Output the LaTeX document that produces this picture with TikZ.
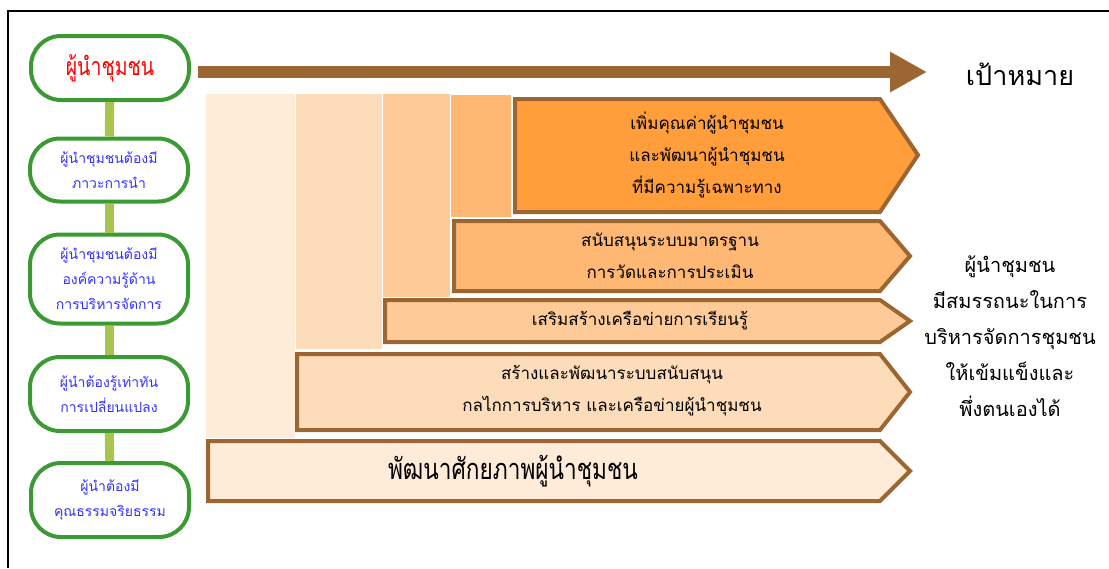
\documentclass[tikz,border=0pt]{standalone}
\usepackage{fontspec}
\newfontfamily\thaifont[Script=Thai]{Loma}
\newfontfamily\thaicond[Script=Thai, FakeStretch=0.78]{Loma}
\usetikzlibrary{arrows.meta}
\definecolor{brownline}{HTML}{9C6633}
\definecolor{leafgreen}{HTML}{3C9A34}
\definecolor{stemgreen}{HTML}{A8C54F}
\definecolor{toneA}{HTML}{FEEBD8}
\definecolor{toneB}{HTML}{FDDCB9}
\definecolor{toneC}{HTML}{FDCA98}
\definecolor{toneD}{HTML}{FEB874}
\definecolor{toneE}{HTML}{FF9E3B}
\definecolor{trait}{HTML}{3333FF}
\begin{document}
\begin{tikzpicture}[x=1pt, y=-1pt, font=\thaifont]
            \tikzstyle{trait} = [draw=leafgreen, line width=4pt, fill=white, rounded corners=30pt, minimum width=158pt, text=trait, font=\thaifont\fontsize{14}{25}\selectfont, align=center, inner sep=0pt]
            \tikzstyle{stem} = [draw=stemgreen, line width=9pt]
            \tikzstyle{bar} = [draw=brownline, line width=4pt, line join=miter]
            \tikzstyle{bartext} = [align=center, font=\thaifont\fontsize{17}{32}\selectfont]
            \tikzstyle{trend} = [draw=brownline, line width=12pt, -{Triangle[length=37pt, width=38pt]}]

            \useasboundingbox (0, 0) rectangle (1109, 568);
            \draw[line width=1.5pt] (8, 568) -- (8, 11) -- (1109, 11);

            % left column
            \node[trait, minimum height=64pt, text=red, font=\thaicond\fontsize{25}{28}\selectfont] (leader) at (110, 68) {ผู้นำชุมชน};
            \node[trait, minimum height=63pt] (vision) at (109, 170) {ผู้นำชุมชนต้องมี\\ภาวะการนำ};
            \node[trait, minimum height=89pt] (know) at (109, 279) {ผู้นำชุมชนต้องมี\\องค์ความรู้ด้าน\\การบริหารจัดการ};
            \node[trait, minimum height=74pt] (change) at (109, 394) {ผู้นำต้องรู้เท่าทัน\\การเปลี่ยนแปลง};
            \node[trait, minimum height=74pt] (ethic) at (110, 500) {ผู้นำต้องมี\\คุณธรรมจริยธรรม};
            \draw[stem] (leader) -- (vision);
            \draw[stem] (vision) -- (know);
            \draw[stem] (know) -- (change);
            \draw[stem] (change) -- (ethic);

            % arrow to the goal
            \coordinate (start) at (198, 72);
            \coordinate (tip) at (927, 72);
            \draw[trend] (start) -- (tip);
            \node[font=\thaifont\fontsize{27}{30}\selectfont] (goal) at (1020, 74) {เป้าหมาย};

            % steps behind the bars
            \fill[toneA] (206, 94) rectangle (295, 438);
            \fill[toneB] (296, 94) rectangle (382, 349);
            \fill[toneC] (383, 94) rectangle (450, 297);
            \fill[toneD] (451, 95) rectangle (511, 217);

            % bars
            \draw[bar, fill=toneE] (515, 99) -- (880, 99) -- (918, 155) -- (880, 212) -- (515, 212) -- cycle;
            \draw[bar, fill=toneD] (454, 221) -- (880, 221) -- (910, 256) -- (880, 291) -- (454, 291) -- cycle;
            \draw[bar, fill=toneC] (385, 300) -- (880, 300) -- (910, 321) -- (880, 342) -- (385, 342) -- cycle;
            \draw[bar, fill=toneB] (297, 354) -- (880, 354) -- (910, 392) -- (880, 430) -- (297, 430) -- cycle;
            \draw[bar, fill=toneA] (208, 441) -- (880, 441) -- (910, 471) -- (880, 501) -- (208, 501) -- cycle;

            \node[bartext] (value) at (707, 155) {เพิ่มคุณค่าผู้นำชุมชน\\และพัฒนาผู้นำชุมชน\\ที่มีความรู้เฉพาะทาง};
            \node[bartext] (standard) at (670, 256) {สนับสนุนระบบมาตรฐาน\\การวัดและการประเมิน};
            \node[bartext] (network) at (640, 321) {เสริมสร้างเครือข่ายการเรียนรู้};
            \node[bartext] (support) at (612, 391) {สร้างและพัฒนาระบบสนับสนุน\\กลไกการบริหาร และเครือข่ายผู้นำชุมชน};
            \node[font=\thaicond\fontsize{29}{34}\selectfont] (potential) at (513, 471) {พัฒนาศักยภาพผู้นำชุมชน};

            \node[align=center, font=\thaifont\fontsize{20}{36}\selectfont] (outcome) at (1010, 336) {ผู้นำชุมชน\\มีสมรรถนะในการ\\บริหารจัดการชุมชน\\ให้เข้มแข็งและ\\พึ่งตนเองได้};
\end{tikzpicture}
\end{document}
